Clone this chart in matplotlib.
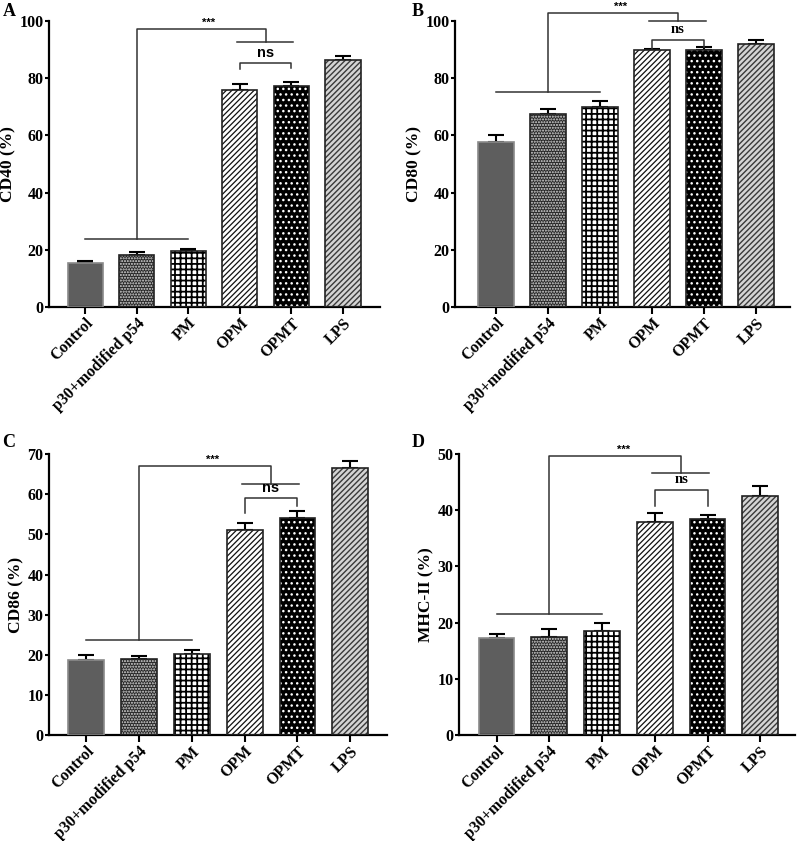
import matplotlib
matplotlib.use("Agg")
import matplotlib.pyplot as plt
import numpy as np

plt.rcParams['font.family'] = ['Liberation Serif', 'DejaVu Serif']
plt.rcParams['font.weight'] = 'bold'

groups = ['Control', 'p30+modified p54', 'PM', 'OPM', 'OPMT', 'LPS']

cd40 = [15.4, 18.1, 19.6, 75.9, 77.4, 86.4]
cd40_err = [0.8, 1.0, 0.8, 2.2, 1.4, 1.2]
cd80 = [57.6, 67.5, 70.0, 89.9, 90.0, 91.8]
cd80_err = [2.4, 1.6, 2.1, 0.4, 1.0, 1.6]
cd86 = [18.8, 19.0, 20.3, 51.1, 54.2, 66.6]
cd86_err = [1.2, 0.8, 1.0, 1.65, 1.6, 1.7]
mhc = [17.3, 17.5, 18.6, 37.9, 38.4, 42.6]
mhc_err = [0.6, 1.4, 1.3, 1.6, 0.7, 1.8]

# bracket heights: low line, top line, group line, ns line, ns legs (OPM, OPMT)
br_a = [23.8, 97.2, 92.7, 85.2, 83.2, 83.5]
br_b = [75.1, 102.7, 99.9, 93.5, 90.1, 91.0]
br_c = [23.6, 67.1, 62.6, 59.1, 55.3, 57.0]
br_d = [21.5, 49.6, 46.7, 43.7, 40.8, 40.8]

# (facecolor, hatch, hatch colour, hatch linewidth)
styles = [('#5e5e5e', None, '#5e5e5e', 1.0),
          ('#262626', '......', '#dddddd', 1.0),
          ('white', '+++', 'black', 1.3),
          ('white', '//////', '#111111', 0.9),
          ('black', '...', 'white', 1.0),
          ('#d4d4d4', '//////', '#3a3a3a', 1.0)]

panels = [
    ('A', cd40, cd40_err, br_a, 'CD40 (%)', 100, 20, [0.0615, 0.635, 0.4155, 0.34], (-0.7, 5.72), 'Liberation Sans'),
    ('B', cd80, cd80_err, br_b, 'CD80 (%)', 100, 20, [0.571, 0.635, 0.42, 0.34], (-0.79, 5.65), 'Liberation Serif'),
    ('C', cd86, cd86_err, br_c, 'CD86 (%)', 70, 10, [0.0615, 0.126, 0.4245, 0.334], (-0.7, 5.7), 'Liberation Sans'),
    ('D', mhc, mhc_err, br_d, 'MHC-II (%)', 50, 10, [0.576, 0.126, 0.421, 0.334], (-0.71, 5.65), 'Liberation Serif'),
]
letter_pos = {'A': (0.003, 0.996), 'B': (0.516, 0.996), 'C': (0.003, 0.484), 'D': (0.516, 0.484)}

fig = plt.figure(figsize=(7.97, 8.41), dpi=100)
x = np.arange(len(groups))

for letter, vals, errs, br, ylab, ymax, ystep, rect, xlim, nsfont in panels:
    ax = fig.add_axes(rect)
    for i in range(len(groups)):
        fc, hatch, hc, hlw = styles[i]
        with plt.rc_context({'hatch.linewidth': hlw}):
            b = ax.bar(x[i], vals[i], width=0.68, color=fc, hatch=hatch, edgecolor=hc,
                       linewidth=0, zorder=2)
        if hasattr(b[0], 'set_hatch_linewidth'):
            b[0].set_hatch_linewidth(hlw)
        ec = '#8a8a8a' if i == 0 else '#222222'
        ax.bar(x[i], vals[i], width=0.68, fill=False, edgecolor=ec, linewidth=1.2, zorder=3)
    ax.errorbar(x, vals, yerr=[np.zeros(len(errs)), errs], fmt='none', ecolor='black',
                elinewidth=1.5, capsize=6, capthick=1.5, zorder=1)

    low, top, grp, ns, leg1, leg2 = br
    kw = dict(color='#333333', lw=1.1, clip_on=False)
    ax.plot([0, 2], [low, low], **kw)
    ax.plot([1, 1, 3.5, 3.5], [low, top, top, grp], **kw)
    ax.plot([2.95, 4.03], [grp, grp], **kw)
    ax.plot([3, 3, 4, 4], [leg1, ns, ns, leg2], **kw)
    ax.text(2.4, top + ymax * 0.005, '***', ha='center', va='bottom', fontsize=8,
            family='Liberation Sans', fontweight='bold')
    ax.text(3.5, ns + ymax * 0.012, 'ns', ha='center', va='bottom', fontsize=10.5,
            family=nsfont, fontweight='bold')

    ax.set_xlim(*xlim)
    ax.set_ylim(0, ymax)
    ax.set_yticks(np.arange(0, ymax + 1, ystep))
    ax.set_xticks(x)
    ax.set_xticklabels(groups, rotation=45, ha='right', rotation_mode='anchor', fontsize=11.5)
    ax.set_ylabel(ylab, fontsize=12.5, fontweight='bold', labelpad=2)
    ax.spines['top'].set_visible(False)
    ax.spines['right'].set_visible(False)
    ax.spines['left'].set_linewidth(1.6)
    ax.spines['bottom'].set_linewidth(1.6)
    ax.tick_params(axis='y', labelsize=11.5, width=1.5, length=3, pad=1)
    ax.tick_params(axis='x', width=1.5, length=5, pad=1)
    for t in ax.get_yticklabels():
        t.set_fontweight('bold')
    fig.text(*letter_pos[letter], letter, fontsize=13, fontweight='bold', va='top')

fig.savefig('out.png', dpi=100)
